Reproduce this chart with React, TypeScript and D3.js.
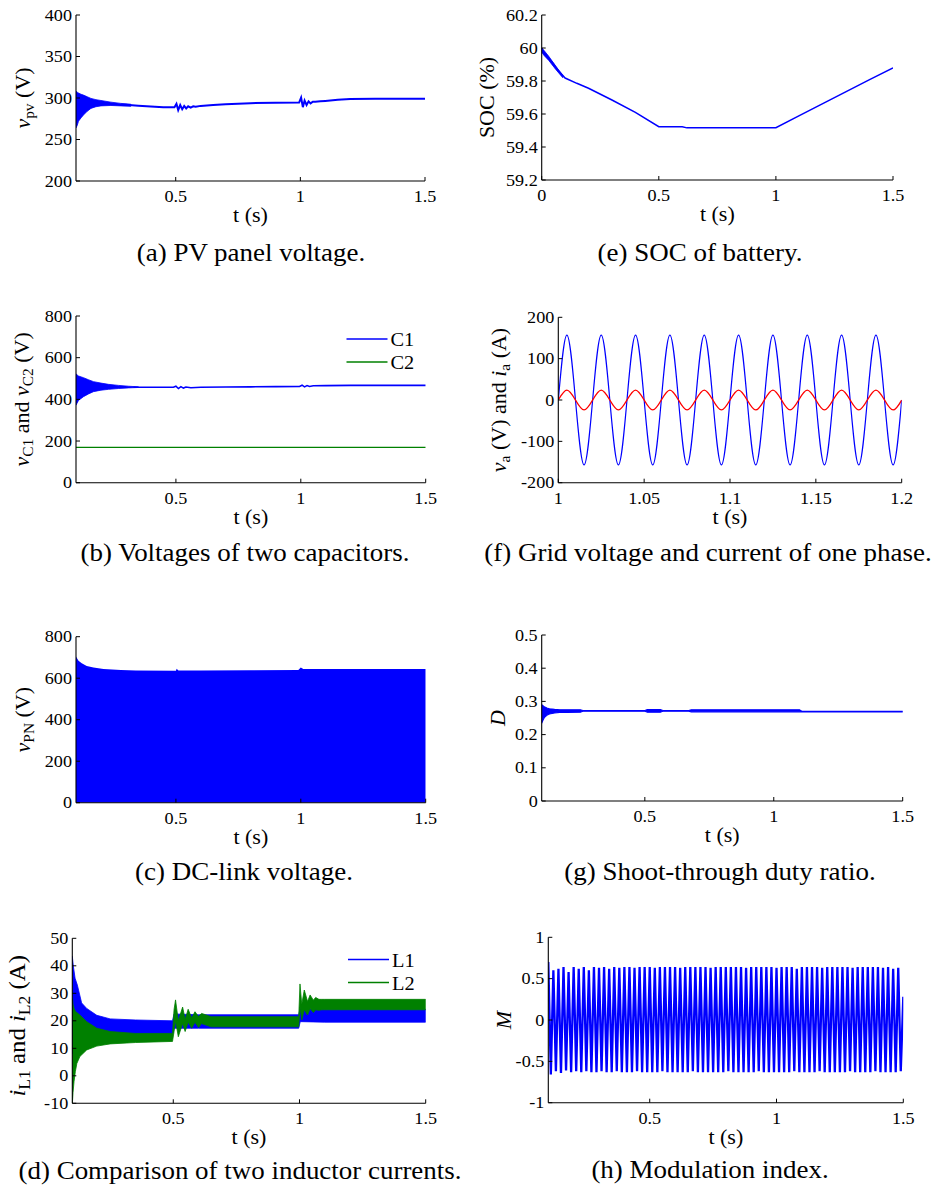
import React from 'react'
import * as d3 from 'd3'

const FONT = '"Liberation Serif", "Times New Roman", Times, serif'
const BLUE = '#0000ff'
const GREEN = '#008000'
const RED = '#ff0000'

// (a) PV panel voltage: start-up envelope and the settled trace
const aEnvT = [0.1, 0.105, 0.11, 0.12, 0.13, 0.145, 0.16, 0.18, 0.2, 0.24, 0.28, 0.32]
const aEnvHi = [308, 307, 306, 304.5, 303.5, 301.5, 299.5, 298, 297, 295, 293.5, 292.5]
const aEnvLo = [264, 267, 272, 276, 279.5, 284, 287.5, 289.5, 290.5, 291, 290.5, 290]
const aT = [0.28, 0.3, 0.35, 0.4, 0.45, 0.495, 0.503, 0.51, 0.518, 0.526, 0.534, 0.542, 0.55, 0.56, 0.57, 0.58, 0.6, 0.65, 0.7, 0.8, 0.9, 0.995, 1.003, 1.01, 1.017, 1.025, 1.033, 1.041, 1.05, 1.06, 1.08, 1.1, 1.15, 1.2, 1.3, 1.4, 1.5]
const aV = [292, 292, 290.8, 289.8, 289, 288.8, 293, 285.5, 291.5, 286.5, 290.5, 287.5, 290, 288.5, 290, 289.5, 290.5, 291.5, 292.5, 293.8, 294.2, 294.5, 300.5, 289, 297, 291.5, 296, 293.5, 295.5, 295.5, 296, 296.5, 298, 298.7, 299, 299, 299.2]

// (e) SOC of battery
const eT = [0, 0.005, 0.01, 0.02, 0.03, 0.05, 0.07, 0.1, 0.15, 0.2, 0.3, 0.4, 0.5, 0.6, 0.62, 0.8, 1.0, 1.1, 1.2, 1.3, 1.4, 1.5]
const eV = [60.0, 59.985, 59.972, 59.955, 59.94, 59.905, 59.865, 59.818, 59.786, 59.756, 59.685, 59.61, 59.523, 59.522, 59.516, 59.516, 59.517, 59.59, 59.663, 59.736, 59.808, 59.88]
const eEnvT = [0, 0.01, 0.03, 0.06, 0.09]
const eEnvHi = [60.0, 59.985, 59.95, 59.89, 59.835]
const eEnvLo = [59.975, 59.955, 59.925, 59.87, 59.82]

// (b) capacitor voltages
const bEnvT = [0.1, 0.11, 0.13, 0.15, 0.17, 0.2, 0.23, 0.27, 0.31, 0.35]
const bEnvHi = [522, 512, 504, 494, 485, 478, 472, 467, 463, 460]
const bEnvLo = [372, 395, 413, 426, 437, 444, 448, 452, 455, 457]
const bT = [0.33, 0.4, 0.49, 0.5, 0.51, 0.52, 0.53, 0.54, 0.56, 0.6, 0.7, 0.8, 0.9, 0.995, 1.005, 1.015, 1.025, 1.035, 1.05, 1.1, 1.2, 1.3, 1.5]
const bC1 = [458, 458, 458, 463, 452, 461, 454, 459, 456, 458, 459, 460, 461, 462, 468, 460, 466, 462, 465, 466, 467, 467, 467]
const bC2T = [0.1, 1.5]
const bC2 = [170, 170]

// (f) grid voltage and current, sampled every quarter period (5 ms)
const fT = d3.range(41).map(i => 1 + i * 0.005)
const fVa = [0, 157, 0, -157, 0, 157, 0, -157, 0, 157, 0, -157, 0, 157, 0, -157, 0, 157, 0, -157, 0, 157, 0, -157, 0, 157, 0, -157, 0, 157, 0, -157, 0, 157, 0, -157, 0, 157, 0, -157, 0]
const fIa = [0, 24, 0, -24, 0, 24, 0, -24, 0, 24, 0, -24, 0, 24, 0, -24, 0, 24, 0, -24, 0, 24, 0, -24, 0, 24, 0, -24, 0, 24, 0, -24, 0, 24, 0, -24, 0, 24, 0, -24, 0]

// (c) DC-link voltage, upper envelope of the pulsed voltage
const cT = [0.1, 0.11, 0.123, 0.143, 0.17, 0.21, 0.28, 0.34, 0.5, 0.503, 0.51, 0.6, 0.8, 0.99, 1.0, 1.01, 1.1, 1.5]
const cV = [704, 684, 672, 659, 651, 644, 640, 637, 636, 645, 637, 637, 638, 640, 651, 644, 644, 644]

// (g) shoot-through duty ratio band
const gT = [0.1, 0.105, 0.11, 0.12, 0.13, 0.15, 0.17, 0.2, 0.25, 0.26, 0.5, 0.51, 0.56, 0.57, 0.67, 0.68, 1.1, 1.11, 1.5]
const gHi = [0.29, 0.287, 0.284, 0.28, 0.278, 0.276, 0.275, 0.275, 0.2745, 0.2725, 0.2725, 0.2755, 0.2755, 0.2725, 0.2725, 0.2745, 0.2745, 0.27, 0.27]
const gLo = [0.234, 0.243, 0.251, 0.258, 0.262, 0.265, 0.267, 0.267, 0.2675, 0.2705, 0.2705, 0.2675, 0.2675, 0.2705, 0.2705, 0.2685, 0.2685, 0.2685, 0.2685]

// (d) inductor currents, ripple bands
const d1T = [0.1, 0.104, 0.111, 0.12, 0.137, 0.157, 0.197, 0.25, 0.35, 0.497, 0.503, 0.6, 0.8, 0.997, 1.003, 1.1, 1.5]
const d1Hi = [43.5, 40, 35.5, 33, 26.5, 24.5, 22, 20.7, 20.3, 20, 22.5, 22.2, 22.2, 22.2, 24.5, 24.2, 24.2]
const d1Lo = [8, 10, 12, 14, 15, 15, 15, 15, 15, 15, 17.3, 17.3, 17.3, 17.3, 19.7, 19.5, 19.5]
const d2T = [0.1, 0.101, 0.103, 0.107, 0.112, 0.118, 0.13, 0.157, 0.197, 0.25, 0.35, 0.497, 0.503, 0.509, 0.52, 0.537, 0.547, 0.559, 0.573, 0.586, 0.6, 0.612, 0.65, 0.997, 1.002, 1.009, 1.019, 1.032, 1.042, 1.055, 1.064, 1.077, 1.088, 1.1, 1.5]
const d2Hi = [27, 28, 26, 24.5, 23.5, 23, 22.1, 19.7, 17.3, 16.1, 15.4, 15.4, 24, 27.6, 20, 25, 20.5, 24.2, 21, 23.3, 21.5, 22.7, 21.5, 21.5, 33.4, 26, 31.2, 27, 29.4, 27.5, 28.5, 27.8, 27.8, 27.8, 27.8]
const d2Lo = [-10, -9, -6, -2, 1.5, 4.5, 7, 9.4, 10.8, 11.6, 12.1, 12.5, 16, 20, 14.2, 19, 16.1, 19.5, 17.3, 19.5, 17.6, 19, 17.8, 17.8, 25, 20.3, 24, 22.1, 24.5, 23, 24, 23.8, 24, 24, 24]

// (h) modulation index: one peak and one trough per 20 ms cycle
const hCycleT = d3.range(70).map(k => 0.1 + k * 0.02)
const hPeak = [
  0.70, 0.60, 0.62, 0.64, 0.58, 0.64, 0.62, 0.64, 0.60, 0.64,
  0.63, 0.64, 0.62, 0.64, 0.63, 0.64, 0.64, 0.63, 0.64, 0.64,
  0.64, 0.63, 0.64, 0.64, 0.64, 0.64, 0.63, 0.64, 0.64, 0.64,
  0.64, 0.64, 0.63, 0.64, 0.64, 0.64, 0.64, 0.64, 0.64, 0.63,
  0.64, 0.64, 0.64, 0.64, 0.64, 0.63, 0.64, 0.64, 0.64, 0.62,
  0.64, 0.64, 0.64, 0.64, 0.63, 0.64, 0.64, 0.64, 0.64, 0.64,
  0.63, 0.64, 0.64, 0.64, 0.64, 0.64, 0.63, 0.64, 0.62, 0.63]
const hTrough = [
  -0.66, -0.62, -0.64, -0.61, -0.63, -0.62, -0.63, -0.62, -0.63, -0.63,
  -0.62, -0.63, -0.63, -0.62, -0.63, -0.63, -0.63, -0.62, -0.63, -0.63,
  -0.63, -0.63, -0.62, -0.63, -0.63, -0.63, -0.63, -0.63, -0.62, -0.63,
  -0.63, -0.63, -0.63, -0.63, -0.63, -0.62, -0.63, -0.63, -0.63, -0.63,
  -0.63, -0.62, -0.63, -0.63, -0.63, -0.63, -0.63, -0.63, -0.62, -0.63,
  -0.63, -0.63, -0.63, -0.62, -0.63, -0.63, -0.63, -0.63, -0.63, -0.62,
  -0.63, -0.63, -0.63, -0.63, -0.62, -0.63, -0.63, -0.63, -0.63, -0.62]
const hEnd = 0.28

const TICK = 16.5
const LABEL = 20
const CAPTION = 24.5
const SX = 1.1 // the printed figure is slightly wider than plain Times
const fmt = (v: number) => String(Math.round(v * 1000) / 1000)

type Sc = d3.ScaleLinear<number, number>
type Box = { left: number; right: number; top: number; bottom: number }

// text stretched a little horizontally, like the original figure
function T(p: { x: number; y: number; size: number; anchor?: string; rotate?: number; children: React.ReactNode }) {
  const rot = p.rotate ? ` rotate(${p.rotate})` : ''
  return (
    <text transform={`translate(${p.x},${p.y})${rot} scale(${SX},1)`} textAnchor={p.anchor || 'start'} fontSize={p.size}>
      {p.children}
    </text>
  )
}

function Panel(props: {
  id: string
  box: Box
  xDomain: [number, number]
  yDomain: [number, number]
  xTicks: number[]
  yTicks: number[]
  yLabel: React.ReactNode
  yLabelX: number
  yLabelShift?: number
  yLabelSize?: number
  caption: string
  captionX: number
  captionY: number
  children: (x: Sc, y: Sc) => React.ReactNode
}) {
  const { box } = props
  const x = d3.scaleLinear().domain(props.xDomain).range([box.left, box.right])
  const y = d3.scaleLinear().domain(props.yDomain).range([box.bottom, box.top])
  return (
    <g>
      <defs>
        <clipPath id={'clip-' + props.id}>
          <rect x={box.left} y={box.top} width={box.right - box.left} height={box.bottom - box.top} />
        </clipPath>
      </defs>
      <g clipPath={`url(#clip-${props.id})`}>{props.children(x, y)}</g>
      <line x1={box.left} x2={box.left} y1={box.top} y2={box.bottom} stroke="#000" strokeWidth={1.1} />
      <line x1={box.left} x2={box.right} y1={box.bottom} y2={box.bottom} stroke="#000" strokeWidth={1.1} />
      {props.yTicks.map(t => (
        <g key={'y' + t}>
          <line x1={box.left} x2={box.left + 4} y1={y(t)} y2={y(t)} stroke="#000" strokeWidth={1} />
          <T x={box.left - 4} y={y(t) + 5.5} size={TICK} anchor="end">{fmt(t)}</T>
        </g>
      ))}
      {props.xTicks.map(t => (
        <g key={'x' + t}>
          <line x1={x(t)} x2={x(t)} y1={box.bottom} y2={box.bottom - 4} stroke="#000" strokeWidth={1} />
          <T x={x(t)} y={box.bottom + 21} size={TICK} anchor="middle">{fmt(t)}</T>
        </g>
      ))}
      <T x={(box.left + box.right) / 2} y={box.bottom + 41} size={LABEL} anchor="middle">t (s)</T>
      <T x={props.yLabelX} y={(box.top + box.bottom) / 2 + (props.yLabelShift || 0)} size={props.yLabelSize || LABEL} anchor="middle" rotate={-90}>
        {props.yLabel}
      </T>
      <T x={props.captionX} y={props.captionY} size={CAPTION} anchor="middle">{props.caption}</T>
    </g>
  )
}

const Sub = ({ s, tail, size = 14 }: { s: string; tail: string; size?: number }) => (
  <>
    <tspan fontSize={size} dy={size * 0.3}>{s}</tspan>
    <tspan dy={-size * 0.3}>{tail}</tspan>
  </>
)

function band(x: Sc, y: Sc, t: number[], hi: number[], lo: number[]) {
  const rows = d3.zip(t, hi, lo)
  return d3.area<number[]>().x(d => x(d[0])).y0(d => y(d[2])).y1(d => y(d[1]))(rows) || ''
}

function trace(x: Sc, y: Sc, t: number[], v: number[], curve: d3.CurveFactory = d3.curveLinear) {
  const rows = d3.zip(t, v)
  return d3.line<number[]>().x(d => x(d[0])).y(d => y(d[1])).curve(curve)(rows) || ''
}

function Legend({ x, y, items }: { x: number; y: number; items: { name: string; color: string }[] }) {
  return (
    <g>
      {items.map((it, i) => (
        <g key={it.name}>
          <line x1={x} x2={x + 41} y1={y + i * 23} y2={y + i * 23} stroke={it.color} strokeWidth={1.4} />
          <T x={x + 44} y={y + i * 23 + 7} size={18.5}>{it.name}</T>
        </g>
      ))}
    </g>
  )
}

export default function App() {
  const tAxis = [0.5, 1, 1.5]
  // zig-zag of the modulation index
  const hT: number[] = []
  const hV: number[] = []
  hCycleT.forEach((t, k) => {
    hT.push(t, t + 0.01)
    hV.push(hPeak[k], hTrough[k])
  })
  hT.push(1.5)
  hV.push(hEnd)

  return (
    <svg width={942} height={1190} style={{ position: 'absolute', left: 0, top: 0 }} fontFamily={FONT}>
      <rect width={942} height={1190} fill="#fff" />

      <Panel id="a" box={{ left: 76, right: 425, top: 15, bottom: 181 }} xDomain={[0.1, 1.5]} yDomain={[200, 400]}
        xTicks={tAxis} yTicks={[200, 250, 300, 350, 400]} yLabelX={30}
        yLabel={<><tspan fontStyle="italic">v</tspan><Sub s="pv" tail=" (V)" /></>}
        caption="(a) PV panel voltage." captionX={251} captionY={261}>
        {(x, y) => (
          <>
            <path d={band(x, y, aEnvT, aEnvHi, aEnvLo)} fill={BLUE} stroke={BLUE} strokeWidth={0.8} />
            <path d={trace(x, y, aT, aV)} fill="none" stroke={BLUE} strokeWidth={2} />
          </>
        )}
      </Panel>

      <Panel id="e" box={{ left: 541.7, right: 893, top: 15, bottom: 180 }} xDomain={[0, 1.5]} yDomain={[59.2, 60.2]}
        xTicks={[0, 0.5, 1, 1.5]} yTicks={[59.2, 59.4, 59.6, 59.8, 60, 60.2]} yLabelX={494}
        yLabel="SOC (%)" caption="(e) SOC of battery." captionX={700} captionY={261}>
        {(x, y) => (
          <>
            <path d={band(x, y, eEnvT, eEnvHi, eEnvLo)} fill={BLUE} stroke={BLUE} strokeWidth={0.8} />
            <path d={trace(x, y, eT, eV)} fill="none" stroke={BLUE} strokeWidth={1.5} />
          </>
        )}
      </Panel>

      <Panel id="b" box={{ left: 76, right: 425.7, top: 316, bottom: 482.7 }} xDomain={[0.1, 1.5]} yDomain={[0, 800]}
        xTicks={tAxis} yTicks={[0, 200, 400, 600, 800]} yLabelX={29}
        yLabel={<><tspan fontStyle="italic">v</tspan><Sub s="C1" tail=" and " /><tspan fontStyle="italic">v</tspan><Sub s="C2" tail=" (V)" /></>}
        caption="(b) Voltages of two capacitors." captionX={245} captionY={561}>
        {(x, y) => (
          <>
            <path d={band(x, y, bEnvT, bEnvHi, bEnvLo)} fill={BLUE} stroke={BLUE} strokeWidth={0.8} />
            <path d={trace(x, y, bT, bC1)} fill="none" stroke={BLUE} strokeWidth={1.6} />
            <path d={trace(x, y, bC2T, bC2)} fill="none" stroke={GREEN} strokeWidth={1.2} />
          </>
        )}
      </Panel>
      <Legend x={346.5} y={339} items={[{ name: 'C1', color: BLUE }, { name: 'C2', color: GREEN }]} />

      <Panel id="f" box={{ left: 558.3, right: 901.7, top: 317.3, bottom: 482.7 }} xDomain={[1, 1.2]} yDomain={[-200, 200]}
        xTicks={[1, 1.05, 1.1, 1.15, 1.2]} yTicks={[-200, -100, 0, 100, 200]} yLabelX={506}
        yLabel={<><tspan fontStyle="italic">v</tspan><Sub s="a" tail=" (V) and " /><tspan fontStyle="italic">i</tspan><Sub s="a" tail=" (A)" /></>}
        caption="(f) Grid voltage and current of one phase." captionX={708} captionY={561}>
        {(x, y) => (
          <>
            <path d={trace(x, y, fT, fVa, d3.curveNatural)} fill="none" stroke={BLUE} strokeWidth={1.2} />
            <path d={trace(x, y, fT, fIa, d3.curveNatural)} fill="none" stroke={RED} strokeWidth={1.4} />
          </>
        )}
      </Panel>

      <Panel id="c" box={{ left: 76, right: 425.7, top: 636.7, bottom: 802.7 }} xDomain={[0.1, 1.5]} yDomain={[0, 800]}
        xTicks={tAxis} yTicks={[0, 200, 400, 600, 800]} yLabelX={30}
        yLabel={<><tspan fontStyle="italic">v</tspan><Sub s="PN" tail=" (V)" /></>}
        caption="(c) DC-link voltage." captionX={244} captionY={880}>
        {(x, y) => (
          <path d={band(x, y, cT, cV, cT.map(() => 0))} fill={BLUE} />
        )}
      </Panel>

      <Panel id="g" box={{ left: 541.7, right: 902.7, top: 635, bottom: 801 }} xDomain={[0.1, 1.5]} yDomain={[0, 0.5]}
        xTicks={tAxis} yTicks={[0, 0.1, 0.2, 0.3, 0.4, 0.5]} yLabelX={505}
        yLabel={<tspan fontStyle="italic">D</tspan>}
        caption="(g) Shoot-through duty ratio." captionX={720} captionY={880}>
        {(x, y) => (
          <path d={band(x, y, gT, gHi, gLo)} fill={BLUE} stroke={BLUE} strokeWidth={1.1} />
        )}
      </Panel>

      <Panel id="d" box={{ left: 72.3, right: 425.7, top: 938.3, bottom: 1103.3 }} xDomain={[0.1, 1.5]} yDomain={[-10, 50]}
        xTicks={tAxis} yTicks={[-10, 0, 10, 20, 30, 40, 50]} yLabelX={25} yLabelShift={5} yLabelSize={22.5}
        yLabel={<><tspan fontStyle="italic">i</tspan><Sub s="L1" tail=" and " size={16} /><tspan fontStyle="italic">i</tspan><Sub s="L2" tail=" (A)" size={16} /></>}
        caption="(d) Comparison of two inductor currents." captionX={240} captionY={1179}>
        {(x, y) => (
          <>
            <path d={band(x, y, d1T, d1Hi, d1Lo)} fill={BLUE} stroke={BLUE} strokeWidth={0.8} />
            <path d={band(x, y, d2T, d2Hi, d2Lo)} fill={GREEN} stroke={GREEN} strokeWidth={0.8} />
          </>
        )}
      </Panel>
      <Legend x={348} y={959.5} items={[{ name: 'L1', color: BLUE }, { name: 'L2', color: GREEN }]} />

      <Panel id="h" box={{ left: 548.3, right: 903.3, top: 937.3, bottom: 1102.7 }} xDomain={[0.1, 1.5]} yDomain={[-1, 1]}
        xTicks={tAxis} yTicks={[-1, -0.5, 0, 0.5, 1]} yLabelX={511}
        yLabel={<tspan fontStyle="italic">M</tspan>}
        caption="(h) Modulation index." captionX={710} captionY={1178}>
        {(x, y) => (
          <path d={trace(x, y, hT, hV)} fill="none" stroke={BLUE} strokeWidth={2.3} />
        )}
      </Panel>
    </svg>
  )
}
